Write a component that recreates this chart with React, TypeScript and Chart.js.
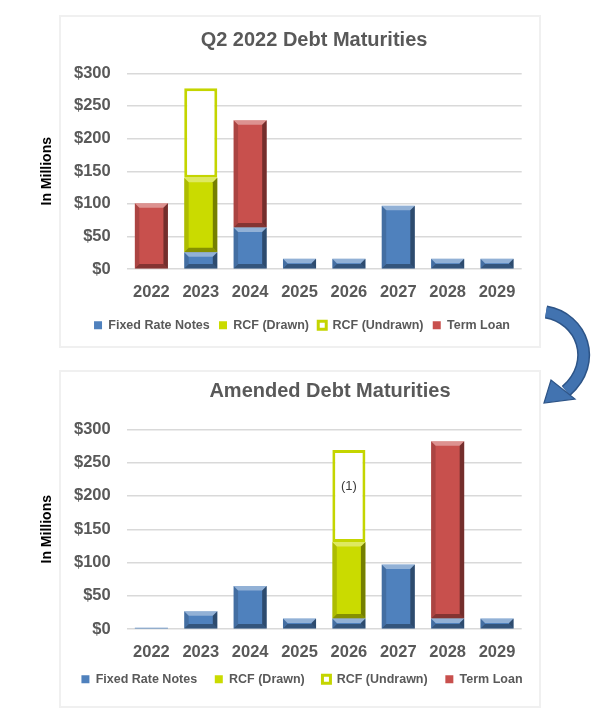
import React, { useEffect, useRef } from 'react';
import { Chart, registerables } from 'chart.js';

Chart.register(...registerables);

// ---------- data ----------
const years = ['2022', '2023', '2024', '2025', '2026', '2027', '2028', '2029'];
const seriesNames = ['Fixed Rate Notes', 'RCF (Drawn)', 'RCF (Undrawn)', 'Term Loan'];

const q2Title = 'Q2 2022 Debt Maturities';
const q2Fixed = [1, 26, 64, 16, 16, 97, 16, 16];
const q2Drawn = [0, 114, 0, 0, 0, 0, 0, 0];
const q2Undrawn = [null, 137, null, null, null, null, null, null];
const q2Term = [100, 0, 164, 0, 0, 0, 0, 0];

const amTitle = 'Amended Debt Maturities';
const amFixed = [2, 27, 65, 16, 16, 97, 16, 16];
const amDrawn = [0, 0, 0, 0, 115, 0, 0, 0];
const amUndrawn = [null, null, null, null, 138, null, null, null];
const amTerm = [0, 0, 0, 0, 0, 0, 266, 0];

const yAxisTitle = 'In Millions';
const yMin = 0;
const yMax = 300;
const yStep = 50;
const tickPrefix = '$';

const noteText = '(1)';
const noteYear = '2026';
const noteValue = 215;

// ---------- styles ----------
const FONT = "'Liberation Sans', Arial, sans-serif";
const GRAY = '#595959';
const BLUE = '#4F81BD';
const GREEN = '#CADB00';
const GREEN_LINE = '#C4D500';
const RED = '#C8504D';

Chart.defaults.font.family = FONT;

const bevelPlugin = {
  id: 'bevel',
  afterDatasetsDraw(chart: any) {
    const ctx = chart.ctx;
    chart.data.datasets.forEach((ds: any, di: number) => {
      if (ds.label === seriesNames[2]) return;
      const meta = chart.getDatasetMeta(di);
      if (meta.hidden) return;
      meta.data.forEach((el: any) => {
        const p = el.getProps(['x', 'y', 'base', 'width'], true);
        if (p.y == null || isNaN(p.y)) return;
        const top = Math.min(p.y, p.base);
        const bottom = Math.max(p.y, p.base);
        const h = bottom - top;
        if (h < 1) return;
        const l = p.x - p.width / 2;
        const r = p.x + p.width / 2;
        const b = Math.min(4.5, h / 2, p.width / 2);
        const poly = (pts: number[][], fill: string) => {
          ctx.beginPath();
          ctx.moveTo(pts[0][0], pts[0][1]);
          for (let i = 1; i < pts.length; i++) ctx.lineTo(pts[i][0], pts[i][1]);
          ctx.closePath();
          ctx.fillStyle = fill;
          ctx.fill();
        };
        ctx.save();
        poly([[l, top], [r, top], [r - b, top + b], [l + b, top + b]], 'rgba(255,255,255,0.38)');
        poly([[r, top], [r, bottom], [r - b, bottom - b], [r - b, top + b]], 'rgba(0,0,0,0.42)');
        poly([[l, bottom], [r, bottom], [r - b, bottom - b], [l + b, bottom - b]], 'rgba(0,0,0,0.34)');
        poly([[l, top], [l + b, top + b], [l + b, bottom - b], [l, bottom]], 'rgba(0,0,0,0.14)');
        ctx.restore();
      });
    });
  },
};

const shiftPlugin = {
  id: 'shift',
  afterLayout(chart: any, _args: any, opts: any) {
    const t = chart.titleBlock;
    if (t && opts && opts.titleDx) {
      t.left += opts.titleDx;
      t.right += opts.titleDx;
    }
    const lg = chart.legend;
    if (lg && opts && opts.legendDy) {
      lg.top += opts.legendDy;
      lg.bottom += opts.legendDy;
    }
  },
};

const notePlugin = {
  id: 'note',
  afterDatasetsDraw(chart: any, _args: any, opts: any) {
    if (!opts || !opts.text) return;
    const xs = chart.scales.x;
    const ys = chart.scales.y;
    const x = xs.getPixelForValue(years.indexOf(opts.year));
    const y = ys.getPixelForValue(opts.value);
    const ctx = chart.ctx;
    ctx.save();
    ctx.font = `13px ${FONT}`;
    ctx.fillStyle = '#3a3a3a';
    ctx.textAlign = 'center';
    ctx.textBaseline = 'middle';
    ctx.fillText(opts.text, x, y);
    ctx.restore();
  },
};

type Props = {
  top: number;
  height: number;
  title: string;
  fixed: (number | null)[];
  drawn: (number | null)[];
  undrawn: (number | null)[];
  term: (number | null)[];
  titlePadTop: number;
  titlePadBottom: number;
  titleDx: number;
  xTickPad: number;
  xAxisH: number;
  legendPad: number;
  legendDy: number;
  padBottom: number;
  note?: any;
};

function DebtChart(props: Props) {
  const ref = useRef<HTMLCanvasElement>(null);
  useEffect(() => {
    const tickFont = { family: FONT, size: 16.5, weight: 'bold' as const };
    const chart = new Chart(ref.current as HTMLCanvasElement, {
      type: 'bar',
      data: {
        labels: years,
        datasets: [
          { label: seriesNames[0], data: props.fixed, backgroundColor: BLUE, borderWidth: 0 },
          { label: seriesNames[1], data: props.drawn, backgroundColor: GREEN, borderWidth: 0 },
          {
            label: seriesNames[2],
            data: props.undrawn,
            backgroundColor: '#ffffff',
            borderColor: GREEN_LINE,
            borderWidth: 3,
            borderSkipped: false,
          },
          { label: seriesNames[3], data: props.term, backgroundColor: RED, borderWidth: 0 },
        ] as any,
      },
      options: {
        responsive: false,
        animation: false,
        devicePixelRatio: 1,
        layout: { padding: { left: 35, right: 33, top: 0, bottom: props.padBottom } },
        datasets: { bar: { categoryPercentage: 1, barPercentage: 0.67 } },
        plugins: {
          title: {
            display: true,
            text: props.title,
            color: GRAY,
            font: { family: FONT, size: 20, weight: 'bold' },
            padding: { top: props.titlePadTop, bottom: props.titlePadBottom },
            fullSize: true,
          },
          legend: {
            position: 'bottom',
            labels: {
              boxWidth: 8,
              boxHeight: 8,
              padding: props.legendPad,
              color: GRAY,
              font: { family: FONT, size: 12.5, weight: 'bold' },
            },
          },
          tooltip: { enabled: false },
          shift: { titleDx: props.titleDx, legendDy: props.legendDy },
          note: props.note || {},
        } as any,
        scales: {
          x: {
            stacked: true,
            grid: { display: false },
            border: { display: false },
            ticks: { color: GRAY, font: tickFont, padding: props.xTickPad },
            afterFit: (s: any) => {
              s.height = props.xAxisH;
            },
          },
          y: {
            stacked: true,
            min: yMin,
            max: yMax,
            ticks: {
              stepSize: yStep,
              padding: 16,
              color: GRAY,
              font: tickFont,
              callback: (v: any) => tickPrefix + v,
            },
            grid: { color: '#d9d9d9', lineWidth: 1.5, drawTicks: false },
            border: { display: false },
            title: {
              display: true,
              text: yAxisTitle,
              color: '#000000',
              font: { family: FONT, size: 14, weight: 'bold' },
              padding: { top: 4, bottom: 0 },
            },
            afterFit: (s: any) => {
              s.width = 91.7;
            },
          },
          y2: {
            position: 'right',
            display: true,
            grid: { display: false },
            border: { display: false },
            ticks: { display: false },
            afterFit: (s: any) => {
              s.width = 47.3;
            },
          },
        } as any,
      },
      plugins: [bevelPlugin, shiftPlugin, notePlugin] as any,
    });
    return () => chart.destroy();
  }, []);
  return (
    <canvas
      ref={ref}
      width={602}
      height={props.height}
      style={{ position: 'absolute', left: 0, top: props.top, width: 602, height: props.height, display: 'block' }}
    />
  );
}

export default function App() {
  const card = (top: number, h: number) => ({
    position: 'absolute' as const,
    left: 59,
    top,
    width: 482,
    height: h,
    border: '2px solid #f0f0f0',
    boxSizing: 'border-box' as const,
    background: '#ffffff',
  });
  return (
    <div style={{ position: 'absolute', left: 0, top: 0, width: 602, height: 722, background: '#ffffff', overflow: 'hidden' }}>
      <div style={card(15, 333)} />
      <div style={card(370, 338)} />
      <svg width={602} height={722} style={{ position: 'absolute', left: 0, top: 0 }}>
        <path d="M 546 312 C 582 318, 599 362, 566 391" fill="none" stroke="#2d5487" strokeWidth={13} />
        <path d="M 546 312 C 582 318, 599 362, 566 391" fill="none" stroke="#4273b0" strokeWidth={10} />
        <polygon points="544,403 551,380 575,399" fill="#4273b0" stroke="#2d5487" strokeWidth={1.2} />
      </svg>
      <DebtChart
        top={15}
        height={332}
        title={q2Title}
        fixed={q2Fixed}
        drawn={q2Drawn}
        undrawn={q2Undrawn}
        term={q2Term}
        titlePadTop={13}
        titlePadBottom={21.3}
        titleDx={12}
        xTickPad={5}
        xAxisH={40.5}
        legendPad={9.3}
        legendDy={0}
        padBottom={5.5}
      />
      <DebtChart
        top={370}
        height={337}
        title={amTitle}
        fixed={amFixed}
        drawn={amDrawn}
        undrawn={amUndrawn}
        term={amTerm}
        titlePadTop={9}
        titlePadBottom={26.3}
        titleDx={28}
        xTickPad={5.5}
        xAxisH={35}
        legendPad={17.7}
        legendDy={-8.9}
        padBottom={2.6}
        note={{ text: noteText, year: noteYear, value: noteValue }}
      />
    </div>
  );
}
